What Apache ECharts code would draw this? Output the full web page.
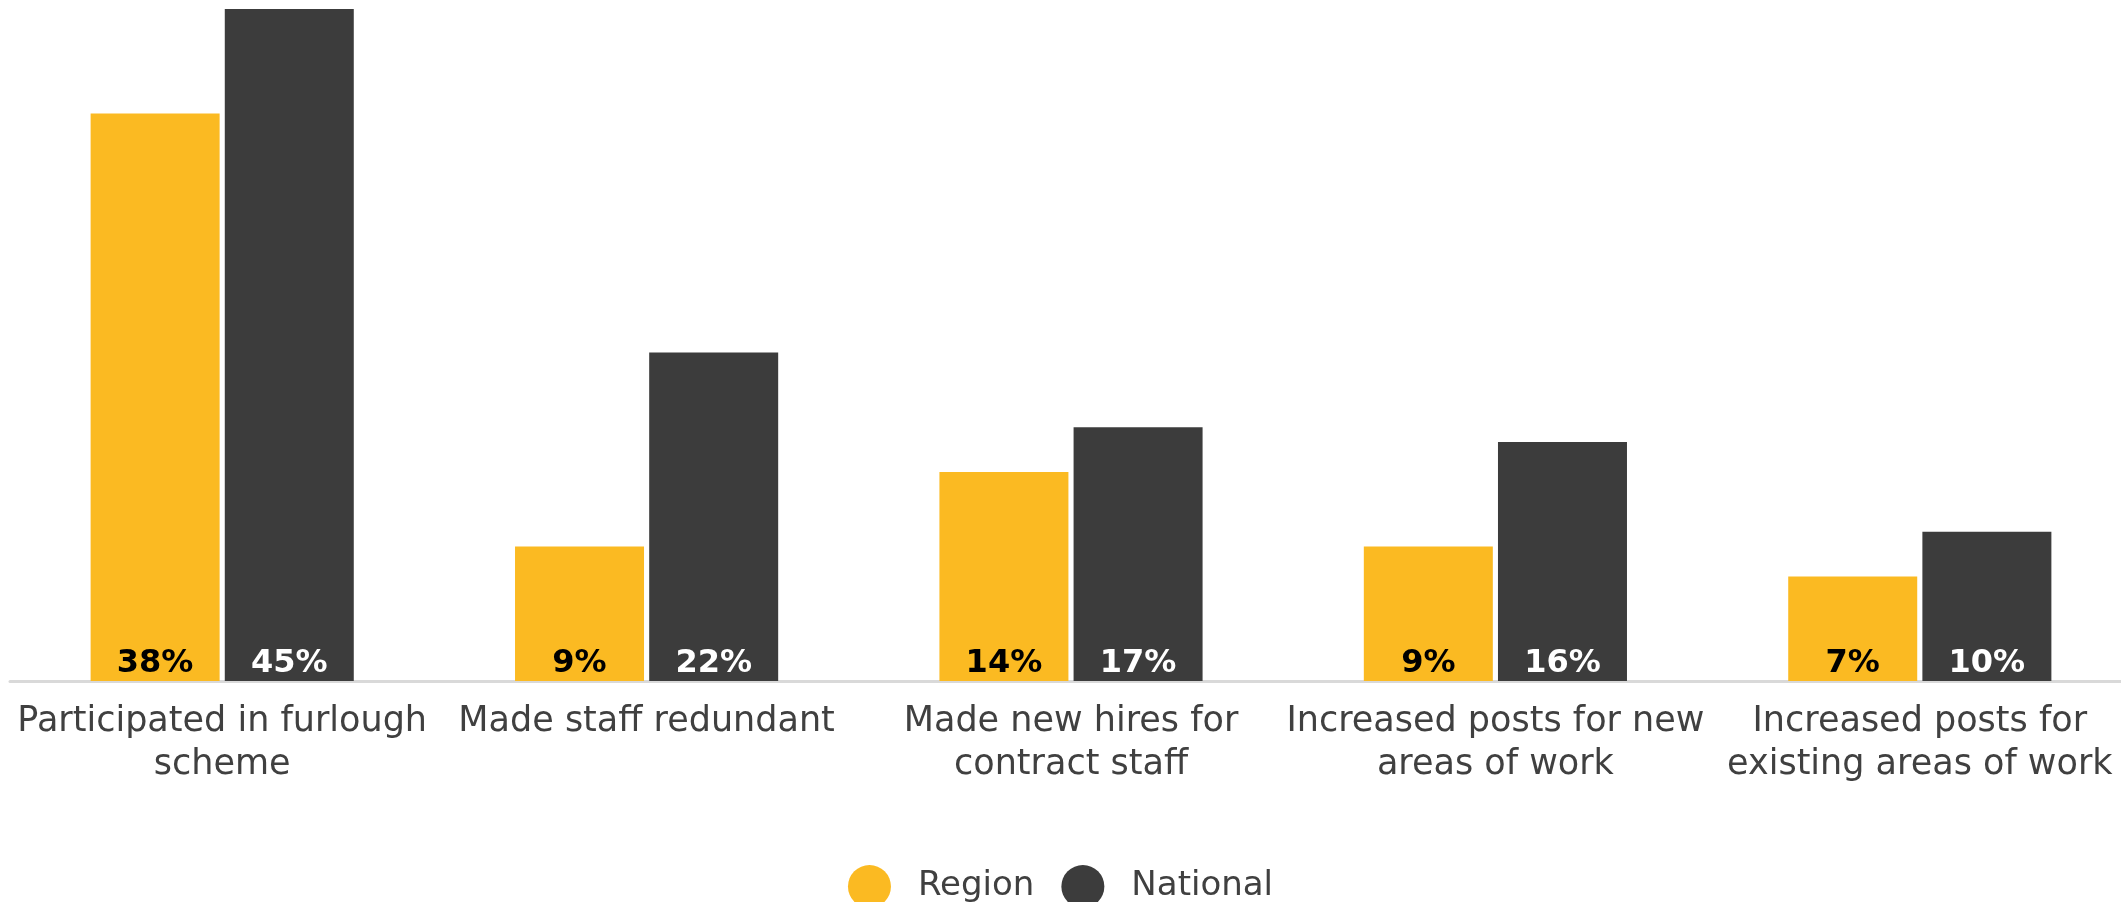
<!DOCTYPE html>
<html>
<head>
<meta charset="utf-8">
<script src="https://cdn.jsdelivr.net/npm/echarts@6/dist/echarts.min.js"></script>
<style>
  html, body { margin: 0; padding: 0; background: #ffffff; }
  #chart { width: 2121px; height: 902px; }
</style>
</head>
<body>
<div id="chart"></div>
<script>
// Workforce actions taken: share of organisations, region vs national
const categories = [
  'Participated in furlough\nscheme',
  'Made staff redundant',
  'Made new hires for\ncontract staff',
  'Increased posts for new\nareas of work',
  'Increased posts for\nexisting areas of work'
];
const regionValues = [38, 9, 14, 9, 7];
const nationalValues = [45, 22, 17, 16, 10];
const seriesNames = ['Region', 'National'];

const chart = echarts.init(document.getElementById('chart'));

const valueLabel = (color) => ({
  show: true,
  position: 'insideBottom',
  distance: 1,
  formatter: '{c}%',
  color: color,
  fontFamily: 'DejaVu Sans',
  fontWeight: 'bold',
  fontSize: 32
});

chart.setOption({
  animation: false,
  grid: {
    left: 10, top: 9, width: 2122, height: 672,
    containLabel: false,
    outerBoundsMode: 'none'
  },
  xAxis: {
    type: 'category',
    data: categories,
    axisLine: { show: true, lineStyle: { color: '#d9d9d9', width: 3 } },
    axisTick: { show: false },
    axisLabel: {
      interval: 0,
      margin: 19,
      color: '#404040',
      fontFamily: 'DejaVu Sans',
      fontSize: 35,
      lineHeight: 43
    }
  },
  yAxis: {
    type: 'value',
    min: 0,
    max: 45,
    show: false,
    splitLine: { show: false }
  },
  legend: {
    data: seriesNames,
    left: 'center',
    top: 860,
    icon: 'circle',
    itemWidth: 43,
    itemHeight: 43,
    itemGap: 27,
    textStyle: {
      color: '#404040',
      fontFamily: 'DejaVu Sans',
      fontSize: 34,
      padding: [0, 0, 0, 22]
    }
  },
  series: [
    {
      name: seriesNames[0],
      type: 'bar',
      data: regionValues,
      barWidth: 129,
      barGap: '4%',
      itemStyle: { color: '#FBBA22' },
      label: valueLabel('#000000')
    },
    {
      name: seriesNames[1],
      type: 'bar',
      data: nationalValues,
      barWidth: 129,
      barGap: '4%',
      itemStyle: { color: '#3C3C3C' },
      label: valueLabel('#ffffff')
    }
  ]
});
</script>
</body>
</html>
